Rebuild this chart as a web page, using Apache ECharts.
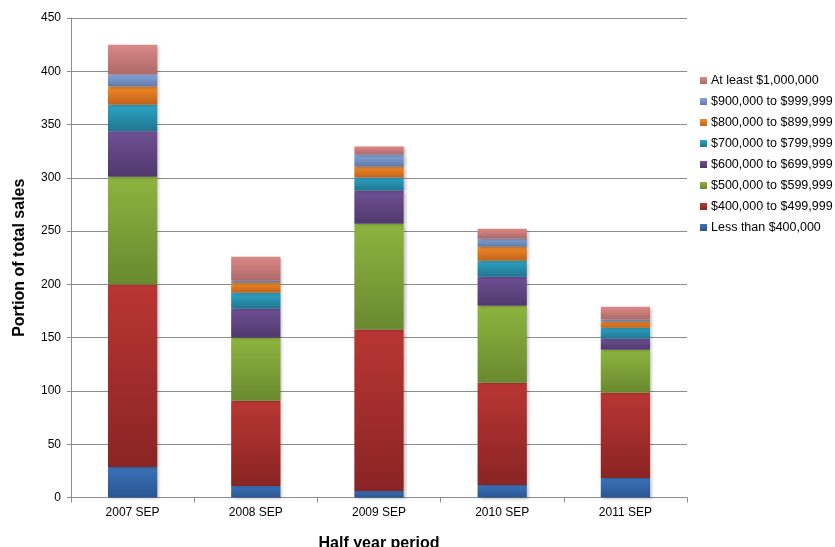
<!DOCTYPE html>
<html>
<head>
<meta charset="utf-8">
<script src="https://cdn.jsdelivr.net/npm/echarts@6/dist/echarts.min.js"></script>
<style>
  html, body { margin: 0; padding: 0; background: #fff; }
  #chart { width: 835px; height: 547px; }
</style>
</head>
<body>
<div id="chart"></div>
<script>
// Periods on the category axis
const periods = ['2007 SEP', '2008 SEP', '2009 SEP', '2010 SEP', '2011 SEP'];

// Sales counts per price band, one value per period
const lessThan400k = [28.7, 10.8, 6.1, 11.7, 18.3];
const band400k     = [171.3, 79.9, 151.5, 95.9, 79.9];
const band500k     = [101.0, 59.2, 99.4, 72.4, 40.4];
const band600k     = [42.7, 27.2, 31.0, 27.2, 10.3];
const band700k     = [25.0, 15.0, 12.2, 15.0, 10.3];
const band800k     = [16.9, 9.4, 10.3, 13.2, 6.0];
const band900k     = [11.4, 1.9, 11.3, 7.5, 1.8];
const atLeast1m    = [28.0, 22.6, 7.5, 9.4, 12.0];

// Band names, bottom to top of the stack
const bandNames = [
  'Less than $400,000',
  '$400,000 to $499,999',
  '$500,000 to $599,999',
  '$600,000 to $699,999',
  '$700,000 to $799,999',
  '$800,000 to $899,999',
  '$900,000 to $999,999',
  'At least $1,000,000'
];
const bandValues = [lessThan400k, band400k, band500k, band600k, band700k, band800k, band900k, atLeast1m];

// Top / bottom gradient colours for each band, plus the flat legend swatch
const bandColors = [
  ['#3a72b8', '#2a5592', '#3567ab'],
  ['#b93633', '#8a2424', '#b0312e'],
  ['#8db43f', '#69892f', '#82a63c'],
  ['#6f5095', '#50386c', '#644789'],
  ['#2ea4c5', '#1f7590', '#2896b5'],
  ['#f28a27', '#bf621a', '#e47e24'],
  ['#86a5d9', '#5f79a8', '#7893c6'],
  ['#db8987', '#ad6968', '#cf7e7c']
];

const series = bandNames.map((name, i) => ({
  name: name,
  type: 'bar',
  stack: 'sales',
  barWidth: '40%',
  data: bandValues[i],
  color: bandColors[i][2],
  itemStyle: {
    color: new echarts.graphic.LinearGradient(0, 0, 0, 1, [
      { offset: 0, color: bandColors[i][0] },
      { offset: 1, color: bandColors[i][1] }
    ]),
    shadowColor: 'rgba(0,0,0,0.25)',
    shadowBlur: 3,
    shadowOffsetX: 2,
    shadowOffsetY: 1
  },
  emphasis: { disabled: true }
}));

const chart = echarts.init(document.getElementById('chart'), null, { renderer: 'canvas' });
chart.setOption({
  animation: false,
  backgroundColor: '#ffffff',
  textStyle: { fontFamily: 'Liberation Sans, Arial, sans-serif' },
  grid: { left: 71, right: 148, top: 18, bottom: 49.5, containLabel: false, outerBoundsMode: 'none' },
  legend: {
    orient: 'vertical',
    left: 695,
    top: 69,
    itemWidth: 7,
    itemHeight: 7,
    itemGap: 8,
    icon: 'rect',
    data: bandNames.slice().reverse(),
    textStyle: { fontSize: 12.5, color: '#000', lineHeight: 12, padding: [0, 0, 0, -1] }
  },
  xAxis: {
    type: 'category',
    data: periods,
    name: 'Half year period',
    nameLocation: 'middle',
    nameGap: 38,
    nameTextStyle: { fontSize: 16, fontWeight: 'bold', color: '#000' },
    axisLine: { lineStyle: { color: '#8c8c8c', width: 1 } },
    axisTick: { show: true, alignWithLabel: false, length: 5, lineStyle: { color: '#8c8c8c' } },
    axisLabel: { fontSize: 12, color: '#000', margin: 9 }
  },
  yAxis: {
    type: 'value',
    min: 0,
    max: 450,
    interval: 50,
    name: 'Portion of total sales',
    nameLocation: 'middle',
    nameGap: 43,
    nameTextStyle: { fontSize: 16, fontWeight: 'bold', color: '#000' },
    axisLine: { show: true, lineStyle: { color: '#8c8c8c', width: 1 } },
    axisTick: { show: true, length: 4, lineStyle: { color: '#8c8c8c' } },
    axisLabel: { fontSize: 12, color: '#000', margin: 10 },
    splitLine: { show: true, lineStyle: { color: '#8c8c8c', width: 1.2 } }
  },
  series: series
});
</script>
</body>
</html>
